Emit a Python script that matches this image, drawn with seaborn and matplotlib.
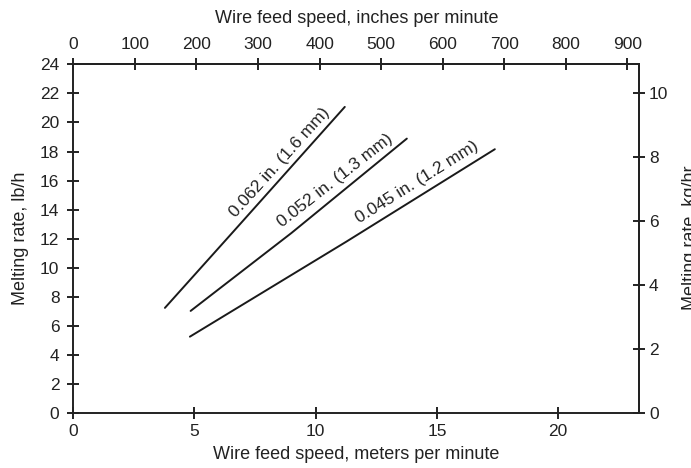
import matplotlib
matplotlib.use("Agg")
import matplotlib.pyplot as plt
import seaborn as sns
import pandas as pd
import numpy as np

# ---- data ----
wire_labels = ["0.062 in. (1.6 mm)", "0.052 in. (1.3 mm)", "0.045 in. (1.2 mm)"]
speed_062 = [3.78, 6.6, 11.2]
rate_062 = [7.25, 12.49, 21.07]
speed_052 = [4.84, 9.0, 13.76]
rate_052 = [7.04, 12.4, 18.89]
speed_045 = [4.81, 11.27, 17.39]
rate_045 = [5.27, 11.81, 18.16]

x_ticks_m = [0, 5, 10, 15, 20]
y_ticks_lb = [0, 2, 4, 6, 8, 10, 12, 14, 16, 18, 20, 22, 24]
x_ticks_ipm = [0, 100, 200, 300, 400, 500, 600, 700, 800, 900]
y_ticks_kg = [0, 2, 4, 6, 8, 10]

M_TO_IN = 39.37
LB_PER_KG = 2.20462

# label placement (data coords) and rotation
label_x = [8.5, 10.8, 14.2]
label_y = [17.25, 16.0, 15.9]
label_rot = [48, 38, 32]

df = pd.concat([
    pd.DataFrame({"speed": speed_062, "rate": rate_062, "wire": wire_labels[0]}),
    pd.DataFrame({"speed": speed_052, "rate": rate_052, "wire": wire_labels[1]}),
    pd.DataFrame({"speed": speed_045, "rate": rate_045, "wire": wire_labels[2]}),
])

sns.set_style("ticks")
plt.rcParams["font.family"] = ["Liberation Sans", "DejaVu Sans"]
plt.rcParams["font.size"] = 12.5

TXT = "#222222"
fig = plt.figure(figsize=(6.91, 4.68), dpi=100)
ax = fig.add_axes([73.3 / 691, 1 - 413.3 / 468, (639.3 - 73.3) / 691, (413.3 - 64.3) / 468])

sns.lineplot(data=df, x="speed", y="rate", hue="wire", units="wire", estimator=None,
             palette=["#1a1a1a"] * 3, legend=False, linewidth=1.4, sort=True, ax=ax)

ax.set_xlim(0, 23.35)
ax.set_ylim(0, 24)
ax.set_xticks(x_ticks_m)
ax.set_yticks(y_ticks_lb)
ax.set_xlabel("Wire feed speed, meters per minute", fontsize=13, labelpad=5, color=TXT)
ax.set_ylabel("Melting rate, lb/h", fontsize=13, labelpad=8, color=TXT)

for sp in ax.spines.values():
    sp.set_linewidth(1.4)
    sp.set_color(TXT)

tick_kw = dict(direction="inout", length=8, width=1.4, color=TXT, labelsize=12.5,
               labelcolor=TXT)
ax.tick_params(axis="x", pad=4, **tick_kw)
ax.tick_params(axis="y", pad=6, **tick_kw)

sec_x = ax.secondary_xaxis("top", functions=(lambda m: m * M_TO_IN, lambda i: i / M_TO_IN))
sec_x.set_xticks(x_ticks_ipm)
sec_x.tick_params(pad=5, **tick_kw)
sec_x.spines["top"].set_linewidth(1.4)
sec_x.set_xlabel("Wire feed speed, inches per minute", fontsize=13, labelpad=10, color=TXT)

sec_y = ax.secondary_yaxis("right", functions=(lambda lb: lb / LB_PER_KG, lambda kg: kg * LB_PER_KG))
sec_y.set_yticks(y_ticks_kg)
sec_y.tick_params(pad=3, **tick_kw)
sec_y.spines["right"].set_linewidth(1.4)

fig.text(682 / 691, 1 - 238 / 468, "Melting rate, kg/hr", rotation=90, ha="left", va="center",
         fontsize=13, color=TXT)

for lbl, lx, ly, rot in zip(wire_labels, label_x, label_y, label_rot):
    ax.text(lx, ly, lbl, rotation=rot, rotation_mode="anchor", ha="center", va="center",
            fontsize=12.5, color=TXT)

fig.savefig("out.png", dpi=100)
